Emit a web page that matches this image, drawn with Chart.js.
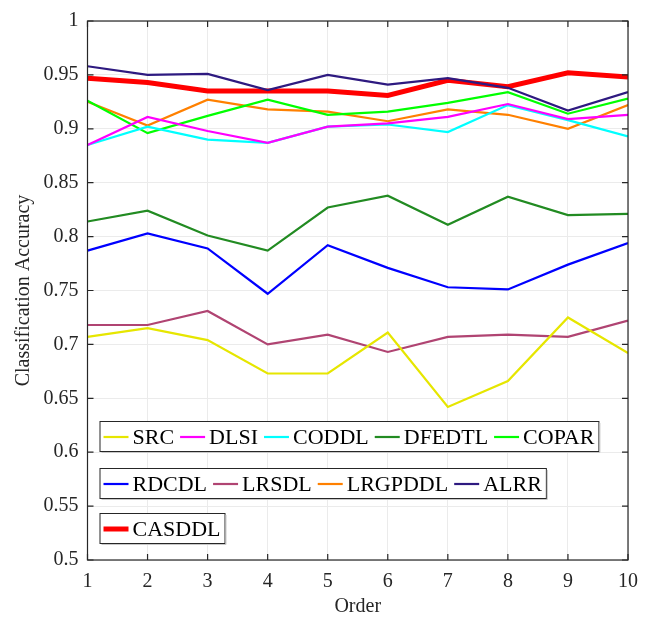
<!DOCTYPE html>
<html>
<head>
<meta charset="utf-8">
<script src="https://cdn.jsdelivr.net/npm/chart.js@4"></script>
<style>
  html, body { margin: 0; padding: 0; background: #fff; }
  #wrap { width: 654px; height: 619px; position: relative; }
</style>
</head>
<body>
<div id="wrap"><canvas id="acc-chart"></canvas></div>
<script>
const orders = [1, 2, 3, 4, 5, 6, 7, 8, 9, 10];
const yTicks = [0.5, 0.55, 0.6, 0.65, 0.7, 0.75, 0.8, 0.85, 0.9, 0.95, 1];

const src     = [0.707, 0.715, 0.704, 0.673, 0.673, 0.711, 0.642, 0.666, 0.725, 0.692];
const dlsi    = [0.885, 0.911, 0.898, 0.887, 0.902, 0.905, 0.911, 0.923, 0.909, 0.913];
const coddl   = [0.885, 0.902, 0.890, 0.887, 0.902, 0.904, 0.897, 0.922, 0.908, 0.893];
const dfedtl  = [0.814, 0.824, 0.801, 0.787, 0.827, 0.838, 0.811, 0.837, 0.820, 0.821];
const copar   = [0.926, 0.896, 0.912, 0.927, 0.913, 0.916, 0.924, 0.934, 0.914, 0.928];
const rdcdl   = [0.787, 0.803, 0.789, 0.747, 0.792, 0.771, 0.753, 0.751, 0.774, 0.794];
const lrsdl   = [0.718, 0.718, 0.731, 0.700, 0.709, 0.693, 0.707, 0.709, 0.707, 0.722];
const lrgpddl = [0.925, 0.903, 0.927, 0.918, 0.916, 0.907, 0.918, 0.913, 0.900, 0.922];
const alrr    = [0.958, 0.950, 0.951, 0.936, 0.950, 0.941, 0.947, 0.938, 0.917, 0.934];
const casddl  = [0.947, 0.943, 0.935, 0.935, 0.935, 0.931, 0.945, 0.939, 0.952, 0.948];

// legend rows, like the three separate boxes in the figure
const legendRows = [
  ['SRC', 'DLSI', 'CODDL', 'DFEDTL', 'COPAR'],
  ['RDCDL', 'LRSDL', 'LRGPDDL', 'ALRR'],
  ['CASDDL']
];

const FONT = '"Liberation Serif", "Times New Roman", serif';

function series(label, values, color, width) {
  return {
    label: label,
    data: values.map((v, i) => ({ x: orders[i], y: v })),
    borderColor: color,
    backgroundColor: color,
    borderWidth: width,
    pointRadius: 0,
    fill: false,
    tension: 0
  };
}

const datasets = [
  series('SRC', src, '#e6e600', 2.2),
  series('DLSI', dlsi, '#ff00ff', 2.2),
  series('CODDL', coddl, '#00ffff', 2.2),
  series('DFEDTL', dfedtl, '#228b22', 2.2),
  series('COPAR', copar, '#00ff00', 2.2),
  series('RDCDL', rdcdl, '#0000ff', 2.2),
  series('LRSDL', lrsdl, '#b04472', 2.2),
  series('LRGPDDL', lrgpddl, '#ff8000', 2.2),
  series('ALRR', alrr, '#2e1a80', 2.2),
  series('CASDDL', casddl, '#ff0000', 5)
];

// box, inward ticks, split legend
const matlabBox = {
  id: 'matlabBox',
  afterDatasetsDraw(chart) {
    const ctx = chart.ctx;
    const a = chart.chartArea;
    const xs = chart.scales.x, ys = chart.scales.y;
    ctx.save();
    ctx.strokeStyle = '#262626';
    ctx.lineWidth = 1.2;
    ctx.strokeRect(a.left, a.top, a.right - a.left, a.bottom - a.top);
    ctx.beginPath();
    yTicks.forEach(t => {
      const y = ys.getPixelForValue(t);
      ctx.moveTo(a.left, y); ctx.lineTo(a.left + 6, y);
      ctx.moveTo(a.right, y); ctx.lineTo(a.right - 6, y);
    });
    orders.forEach(t => {
      const x = xs.getPixelForValue(t);
      ctx.moveTo(x, a.bottom); ctx.lineTo(x, a.bottom - 6);
      ctx.moveTo(x, a.top); ctx.lineTo(x, a.top + 6);
    });
    ctx.stroke();

    // legend boxes
    ctx.font = '22px ' + FONT;
    ctx.textBaseline = 'middle';
    const left = a.left + 12;
    const rowTops = [400, 447, 492];
    const boxH = 30;
    legendRows.forEach((row, r) => {
      let x = left + 4;
      const items = [];
      row.forEach(name => {
        const ds = chart.data.datasets.find(d => d.label === name);
        const tw = ctx.measureText(name).width;
        items.push({ ds: ds, x: x, tw: tw });
        x += 25 + 4 + tw + 6;
      });
      const top = a.top + rowTops[r];
      const boxW = x - left - 2;
      ctx.fillStyle = '#fff';
      ctx.fillRect(left, top, boxW, boxH);
      ctx.strokeStyle = '#262626';
      ctx.lineWidth = 1;
      ctx.strokeRect(left + 0.5, top + 0.5, boxW, boxH);
      ctx.strokeStyle = '#c8c8c8';
      ctx.beginPath();
      ctx.moveTo(left + 2, top + boxH + 1.5); ctx.lineTo(left + boxW + 1.5, top + boxH + 1.5);
      ctx.lineTo(left + boxW + 1.5, top + 2);
      ctx.stroke();
      items.forEach(it => {
        const cy = top + boxH / 2 + 1;
        ctx.strokeStyle = it.ds.borderColor;
        ctx.lineWidth = it.ds.borderWidth;
        ctx.beginPath();
        ctx.moveTo(it.x, cy); ctx.lineTo(it.x + 25, cy);
        ctx.stroke();
        ctx.fillStyle = '#000';
        ctx.fillText(it.ds.label, it.x + 29, cy + 1);
      });
    });
    ctx.restore();
  }
};

new Chart(document.getElementById('acc-chart'), {
  type: 'line',
  data: { datasets: datasets },
  options: {
    responsive: true,
    maintainAspectRatio: false,
    animation: false,
    layout: { padding: { left: 0, right: 26, top: 17, bottom: 0 } },
    plugins: {
      legend: { display: false },
      tooltip: { enabled: false }
    },
    scales: {
      x: {
        type: 'linear',
        min: 1,
        max: 10,
        afterFit: s => { s.height = 59; },
        afterBuildTicks: s => { s.ticks = orders.map(v => ({ value: v })); },
        grid: { color: '#ebebeb', drawTicks: false },
        border: { display: false },
        ticks: {
          color: '#262626',
          font: { family: FONT, size: 20 },
          padding: 10,
          maxRotation: 0
        },
        title: {
          display: true,
          text: 'Order',
          color: '#262626',
          font: { family: FONT, size: 20 },
          padding: { top: 0, bottom: 0 }
        }
      },
      y: {
        min: 0.5,
        max: 1,
        afterFit: s => { s.width = 87.5; },
        afterBuildTicks: s => { s.ticks = yTicks.map(v => ({ value: v })); },
        grid: { color: '#ebebeb', drawTicks: false },
        border: { display: false },
        ticks: {
          color: '#262626',
          font: { family: FONT, size: 20 },
          padding: 9,
          callback: v => String(+v.toFixed(2))
        },
        title: {
          display: true,
          text: 'Classification Accuracy',
          color: '#262626',
          font: { family: FONT, size: 20 },
          padding: { top: 12, bottom: 4 }
        }
      }
    }
  },
  plugins: [matlabBox]
});
</script>
</body>
</html>
